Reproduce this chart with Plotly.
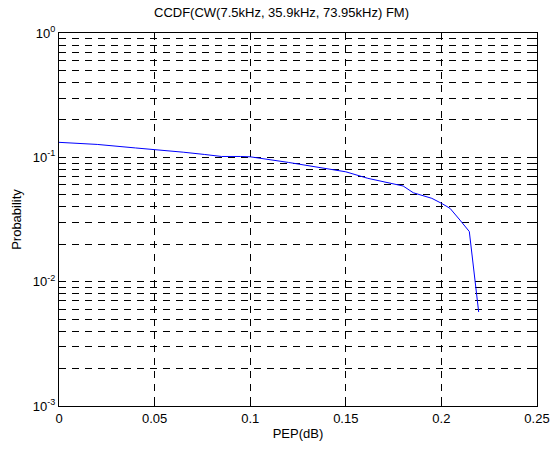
import plotly.graph_objects as go

# Data
pep_db = [0.0, 0.02, 0.04, 0.05, 0.065, 0.076, 0.085, 0.095, 0.1, 0.12, 0.14, 0.15,
          0.1615, 0.167, 0.178, 0.180, 0.1853, 0.195, 0.2, 0.2045, 0.2097, 0.2146, 0.2195]
probability = [0.132, 0.127, 0.119, 0.1157, 0.110, 0.1055, 0.1016, 0.1016, 0.101, 0.091, 0.081, 0.0765,
               0.0678, 0.0648, 0.0598, 0.0588, 0.0519, 0.0468, 0.0427, 0.0389, 0.0313, 0.0253, 0.0057]

x_ticks = [0, 0.05, 0.1, 0.15, 0.2, 0.25]
x_ticktext = ["0", "0.05", "0.1", "0.15", "0.2", "0.25"]
decades = [-3, -2, -1, 0]

y_tickvals = [10.0 ** d for d in decades]
y_ticktext = [f"10<sup>{d}</sup>" for d in decades]
y_minorvals = [m * 10.0 ** d for d in decades[:-1] for m in range(2, 10)]

FONT = "Liberation Sans, Arial, sans-serif"

fig = go.Figure()
fig.add_trace(go.Scatter(x=pep_db, y=probability, mode="lines",
                         line=dict(color="#0000ff", width=1), showlegend=False))

grid = dict(showgrid=True, gridcolor="#000000", gridwidth=1, griddash="7px,6px")
fig.update_xaxes(range=[0, 0.25], tickvals=x_ticks, ticktext=x_ticktext,
                 ticks="inside", ticklen=5, tickcolor="#000", showline=True,
                 linecolor="#000", linewidth=1, mirror="allticks", zeroline=False,
                 automargin=False,
                 title=dict(text="PEP(dB)", standoff=4, font=dict(size=13)),
                 **grid)
fig.update_yaxes(type="log", range=[-3, 0], tickvals=y_tickvals, ticktext=y_ticktext,
                 ticks="inside", ticklen=5, tickcolor="#000", showline=True,
                 linecolor="#000", linewidth=1, mirror="allticks", zeroline=False,
                 automargin=False,
                 minor=dict(tickmode="array", tickvals=y_minorvals, ticks="inside",
                            ticklen=3, tickcolor="#000", showgrid=True,
                            gridcolor="#000000", gridwidth=1, griddash="7px,6px"),
                 title=dict(text="Probability", standoff=8, font=dict(size=13)),
                 **grid)

fig.update_layout(
    width=553, height=450,
    margin=dict(l=59, r=16, t=33, b=44),
    paper_bgcolor="white", plot_bgcolor="white",
    font=dict(family=FONT, size=13, color="#000"),
    title=dict(text="CCDF(CW(7.5kHz, 35.9kHz, 73.95kHz) FM)", xref="container",
               x=281.5 / 553, xanchor="center", yref="container", y=1 - 12 / 450,
               yanchor="middle", font=dict(size=13)),
)

fig.write_html("out.html")
